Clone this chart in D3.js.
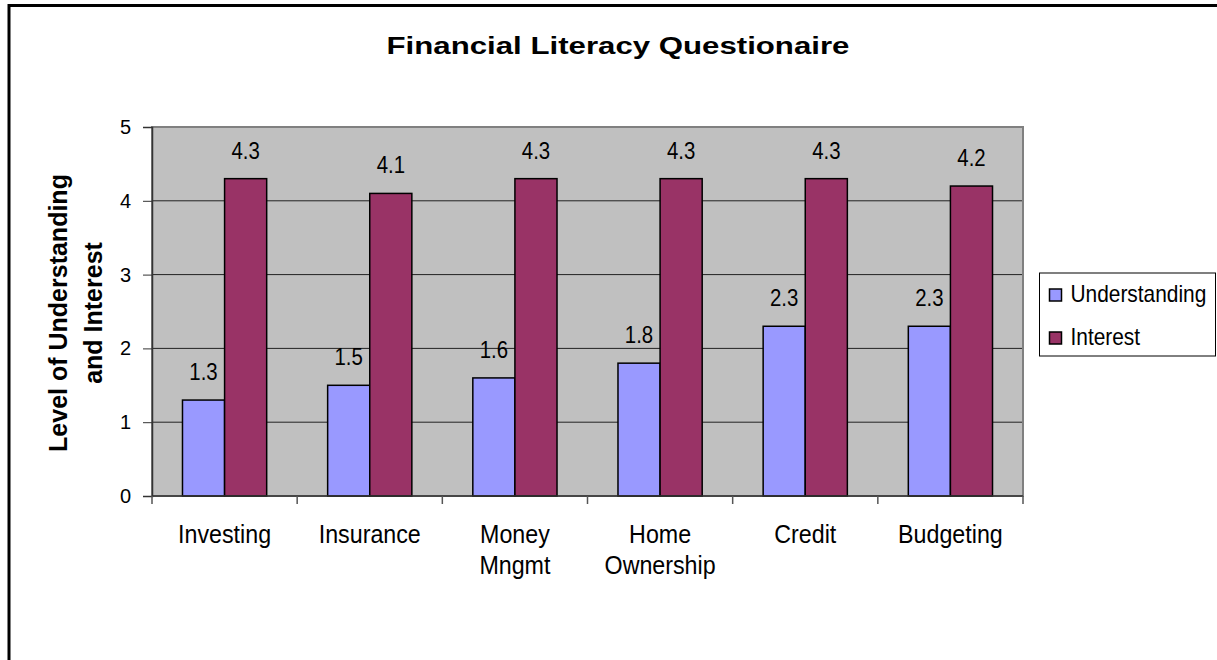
<!DOCTYPE html>
<html>

<head>
  <meta charset="utf-8">
  <title>financial-literacy</title>
  <style>
    * {
      padding: 0;
      margin: 0;
    }

    html,
    body {
      width: 100%;
      height: 100%;
      background: #fff;
      overflow: hidden;
    }

    text {
      font-family: "Liberation Sans", Arial, sans-serif;
      fill: #000;
    }
  </style>
</head>

<body>
  <svg id="svg"></svg>
  <script src="https://cdnjs.cloudflare.com/ajax/libs/d3/7.8.5/d3.min.js"></script>
  <script>
    const categories = [['Investing'], ['Insurance'], ['Money', 'Mngmt'], ['Home', 'Ownership'], ['Credit'], ['Budgeting']];
    const seriesNames = ['Understanding', 'Interest'];
    const understanding = [1.3, 1.5, 1.6, 1.8, 2.3, 2.3];
    const interest = [4.3, 4.1, 4.3, 4.3, 4.3, 4.2];
    const yTicks = [0, 1, 2, 3, 4, 5];

    const colors = ['#9999ff', '#993366'];
    const dimension = {
      width: 1217,
      height: 660,
      plot: { left: 152, right: 1023, top: 127, bottom: 496 }
    };
    const p = dimension.plot;

    const svg = d3.select('#svg').attr('width', dimension.width).attr('height', dimension.height);

    // outer frame, right and bottom edges fall outside the picture
    svg.append('rect')
      .attr('x', 9).attr('y', 5.5)
      .attr('width', 1400).attr('height', 900)
      .attr('fill', 'none').attr('stroke', '#000').attr('stroke-width', 3);

    svg.append('text')
      .attr('transform', `translate(618, 54) scale(1.3, 1)`)
      .attr('text-anchor', 'middle')
      .style('font-size', '24px')
      .style('font-weight', 'bold')
      .text('Financial Literacy Questionaire');

    const keys = categories.map(c => c.join(' '));
    const x0 = d3.scaleBand().domain(keys).range([p.left, p.right]).paddingInner(0.42).paddingOuter(0.21);
    const x1 = d3.scaleBand().domain(seriesNames).range([0, x0.bandwidth()]);
    const y = d3.scaleLinear().domain([0, 5]).range([p.bottom, p.top]);

    svg.append('rect')
      .attr('x', p.left).attr('y', p.top)
      .attr('width', p.right - p.left).attr('height', p.bottom - p.top)
      .attr('fill', '#c0c0c0');

    // grid lines
    svg.append('g')
      .selectAll('line')
      .data(yTicks.slice(1, -1))
      .enter()
      .append('line')
      .attr('x1', p.left).attr('x2', p.right)
      .attr('y1', d => y(d)).attr('y2', d => y(d))
      .attr('stroke', '#222').attr('stroke-width', 1);

    svg.append('rect')
      .attr('x', p.left).attr('y', p.top)
      .attr('width', p.right - p.left).attr('height', p.bottom - p.top)
      .attr('fill', 'none').attr('stroke', '#808080').attr('stroke-width', 2);

    const rows = keys.map((k, i) => ({ key: k, values: [understanding[i], interest[i]] }));

    const groups = svg.append('g')
      .attr('id', 'bars')
      .selectAll('g')
      .data(rows)
      .enter()
      .append('g')
      .attr('transform', d => `translate(${x0(d.key)}, 0)`);

    groups.selectAll('rect')
      .data(d => d.values.map((v, j) => ({ name: seriesNames[j], value: v, j })))
      .enter()
      .append('rect')
      .attr('x', d => x1(d.name))
      .attr('y', d => y(d.value))
      .attr('width', x1.bandwidth())
      .attr('height', d => y(0) - y(d.value))
      .attr('fill', d => colors[d.j])
      .attr('stroke', '#000')
      .attr('stroke-width', 1.5);

    groups.selectAll('text')
      .data(d => d.values.map((v, j) => ({ name: seriesNames[j], value: v })))
      .enter()
      .append('text')
      .attr('transform', d => `translate(${x1(d.name) + x1.bandwidth() / 2}, ${y(d.value) - 20}) scale(0.85, 1)`)
      .attr('text-anchor', 'middle')
      .style('font-size', '24px')
      .text(d => d3.format('.1f')(d.value));

    // y axis
    const yAxis = d3.axisLeft(y).tickValues(yTicks).tickSize(9).tickPadding(12).tickFormat(d3.format('d'));
    const gy = svg.append('g')
      .attr('id', 'y-axis')
      .attr('transform', `translate(${p.left}, 0)`)
      .call(yAxis);
    gy.select('.domain').attr('stroke', '#333').attr('stroke-width', 1.5);
    gy.selectAll('.tick line').attr('stroke', '#333');
    gy.selectAll('.tick text')
      .attr('fill', '#000')
      .attr('font-size', null)
      .style('font-size', '20px')
      .style('font-family', '"Liberation Sans", Arial, sans-serif');

    // x axis: ticks sit on the category borders
    const gx = svg.append('g')
      .attr('id', 'x-axis')
      .attr('transform', `translate(0, ${p.bottom})`);
    gx.append('line')
      .attr('x1', p.left).attr('x2', p.right)
      .attr('stroke', '#333').attr('stroke-width', 1.5);
    const step = x0.step();
    gx.selectAll('line.tick')
      .data(d3.range(keys.length + 1))
      .enter()
      .append('line')
      .attr('class', 'tick')
      .attr('x1', i => p.left + i * step).attr('x2', i => p.left + i * step)
      .attr('y1', 0).attr('y2', 8)
      .attr('stroke', '#555').attr('stroke-width', 1.5);

    const labels = gx.selectAll('text')
      .data(categories)
      .enter()
      .append('text')
      .attr('text-anchor', 'middle')
      .style('font-size', '25px')
      .attr('transform', (d, i) => `translate(${x0(keys[i]) + x0.bandwidth() / 2}, 47) scale(0.93, 1)`);
    labels.selectAll('tspan')
      .data(d => d)
      .enter()
      .append('tspan')
      .attr('x', 0)
      .attr('dy', (d, i) => i === 0 ? 0 : 31)
      .text(d => d);

    // y axis title
    const yTitle = svg.append('text')
      .attr('transform', 'translate(67, 313) rotate(-90)')
      .attr('text-anchor', 'middle')
      .style('font-size', '25px')
      .style('font-weight', 'bold');
    yTitle.append('tspan').attr('x', 0).attr('dy', 0).text('Level of Understanding');
    yTitle.append('tspan').attr('x', 0).attr('dy', 35).text('and Interest');

    // legend
    const legend = svg.append('g').attr('transform', 'translate(1039.5, 273)');
    legend.append('rect')
      .attr('width', 176).attr('height', 83)
      .attr('fill', '#fff').attr('stroke', '#000').attr('stroke-width', 1);
    const item = legend.selectAll('g')
      .data(seriesNames)
      .enter()
      .append('g')
      .attr('transform', (d, i) => `translate(10, ${16 + i * 43})`);
    item.append('rect')
      .attr('width', 12).attr('height', 12)
      .attr('fill', (d, i) => colors[i])
      .attr('stroke', '#000').attr('stroke-width', 1.5);
    item.append('text')
      .attr('transform', 'translate(21, 13) scale(0.87, 1)')
      .style('font-size', '24px')
      .text(d => d);
  </script>

</body>

</html>
